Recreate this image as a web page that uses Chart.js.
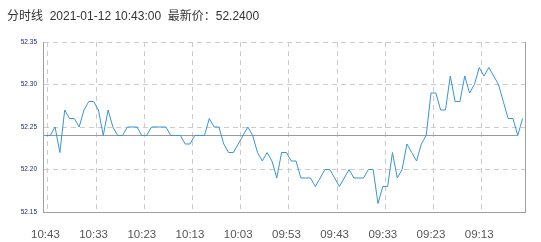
<!DOCTYPE html>
<html>
<head>
<meta charset="utf-8">
<script src="https://cdn.jsdelivr.net/npm/chart.js@4"></script>
<style>
    html, body { margin: 0; padding: 0; background: #fff; }
    #wrap { position: relative; width: 541px; height: 242px; }
    #title {
        position: absolute; left: 7px; top: 10px;
        font: 12px/12px "Liberation Sans", Arial, "Noto Sans CJK SC", sans-serif;
        color: #333; white-space: pre;
    }
    canvas { position: absolute; left: 0; top: 0; }
</style>
</head>
<body>
<div id="wrap">
    <canvas id="chart" width="541" height="242"></canvas>
    <div id="title">分时线  2021-01-12 10:43:00  最新价：52.2400</div>
</div>
<script>
// --------------------------------
// Data
// --------------------------------

const times = [
    '10:43', '10:42', '10:41', '10:40', '10:39', '10:38', '10:37', '10:36', '10:35', '10:34',
    '10:33', '10:32', '10:31', '10:30', '10:29', '10:28', '10:27', '10:26', '10:25', '10:24',
    '10:23', '10:22', '10:21', '10:20', '10:19', '10:18', '10:17', '10:16', '10:15', '10:14',
    '10:13', '10:12', '10:11', '10:10', '10:09', '10:08', '10:07', '10:06', '10:05', '10:04',
    '10:03', '10:02', '10:01', '10:00', '09:59', '09:58', '09:57', '09:56', '09:55', '09:54',
    '09:53', '09:52', '09:51', '09:50', '09:49', '09:48', '09:47', '09:46', '09:45', '09:44',
    '09:43', '09:42', '09:41', '09:40', '09:39', '09:38', '09:37', '09:36', '09:35', '09:34',
    '09:33', '09:32', '09:31', '09:30', '09:29', '09:28', '09:27', '09:26', '09:25', '09:24',
    '09:23', '09:22', '09:21', '09:20', '09:19', '09:18', '09:17', '09:16', '09:15', '09:14',
    '09:13', '09:12', '09:11', '09:10', '09:09', '09:08', '09:07', '09:06', '09:05', '09:04'
];

const prices = [
    52.24, 52.24, 52.25, 52.22, 52.27, 52.26, 52.26, 52.25, 52.27, 52.28,
    52.28, 52.27, 52.24, 52.27, 52.25, 52.24, 52.24, 52.25, 52.25, 52.25,
    52.24, 52.24, 52.25, 52.25, 52.25, 52.25, 52.24, 52.24, 52.24, 52.23,
    52.23, 52.24, 52.24, 52.24, 52.26, 52.25, 52.25, 52.23, 52.22, 52.22,
    52.23, 52.24, 52.25, 52.24, 52.22, 52.21, 52.22, 52.21, 52.19, 52.22,
    52.22, 52.21, 52.21, 52.19, 52.19, 52.19, 52.18, 52.19, 52.20, 52.20,
    52.19, 52.18, 52.19, 52.20, 52.19, 52.19, 52.19, 52.20, 52.20, 52.16,
    52.18, 52.18, 52.22, 52.19, 52.20, 52.23, 52.22, 52.21, 52.23, 52.24,
    52.29, 52.29, 52.27, 52.27, 52.31, 52.28, 52.28, 52.31, 52.29, 52.30,
    52.32, 52.31, 52.32, 52.31, 52.30, 52.28, 52.26, 52.26, 52.24, 52.26
];

const basePrice = 52.24;
const yMin = 52.15;
const yMax = 52.35;
const yStep = 0.05;

// --------------------------------
// Plugins
// --------------------------------

// reference line at the base price, under the price line
const baseLine = {
    id: 'baseLine',
    beforeDatasetsDraw(chart) {
        const { ctx, chartArea, scales } = chart;
        const y = Math.round(scales.y.getPixelForValue(basePrice)) + 0.5;
        ctx.save();
        ctx.strokeStyle = '#9a9a9a';
        ctx.lineWidth = 1;
        ctx.beginPath();
        ctx.moveTo(chartArea.left, y);
        ctx.lineTo(scales.x.getPixelForValue(prices.length - 2), y);
        ctx.stroke();
        ctx.restore();
    }
};

// solid right edge of the plot frame
const frameRight = {
    id: 'frameRight',
    afterDraw(chart) {
        const { ctx, chartArea } = chart;
        const x = Math.round(chartArea.right) + 0.5;
        ctx.save();
        ctx.strokeStyle = '#a0a0a0';
        ctx.lineWidth = 1;
        ctx.beginPath();
        ctx.moveTo(x, chartArea.top);
        ctx.lineTo(x, chartArea.bottom);
        ctx.stroke();
        ctx.restore();
    }
};

// --------------------------------
// Chart
// --------------------------------

const fontFamily = '"Liberation Sans", Arial, sans-serif';

new Chart(document.getElementById('chart'), {
    type: 'line',
    data: {
        labels: times,
        datasets: [{
            data: prices,
            borderColor: '#3894d8',
            borderWidth: 1,
            pointRadius: 0,
            tension: 0,
            fill: false
        }]
    },
    options: {
        responsive: false,
        animation: false,
        layout: {
            padding: { top: 42, right: 16, bottom: 0, left: 0 }
        },
        plugins: {
            legend: { display: false },
            tooltip: { enabled: false }
        },
        scales: {
            x: {
                offset: true,
                afterFit: scale => { scale.height = 30; },
                grid: {
                    offset: true,
                    drawTicks: false,
                    color: ctx => ctx.index % 10 === 1 ? '#cccccc' : 'rgba(0,0,0,0)'
                },
                border: { color: '#a0a0a0', dash: [5, 4] },
                ticks: {
                    autoSkip: false,
                    maxRotation: 0,
                    padding: 16,
                    color: '#555555',
                    font: { size: 11.5, family: fontFamily },
                    callback: (value, index) => index % 10 === 0 ? times[index] : ''
                }
            },
            y: {
                min: yMin,
                max: yMax,
                afterFit: scale => { scale.width = 43; },
                grid: {
                    drawTicks: false,
                    color: '#cccccc'
                },
                border: { color: '#a0a0a0', dash: [5, 4] },
                ticks: {
                    stepSize: yStep,
                    padding: 6,
                    color: '#1c2a6e',
                    font: { size: 6.5, family: fontFamily },
                    callback: value => value.toFixed(2)
                }
            }
        }
    },
    plugins: [baseLine, frameRight]
});
</script>
</body>
</html>
